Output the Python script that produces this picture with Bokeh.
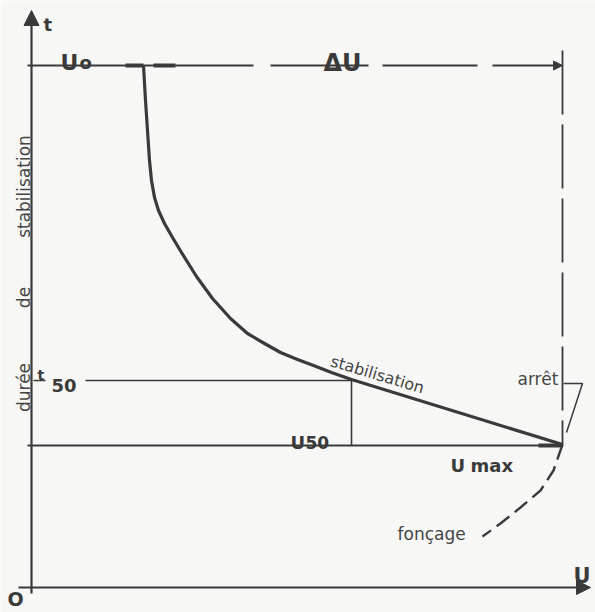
import math
from bokeh.plotting import figure
from bokeh.models import Range1d, Arrow, NormalHead
from bokeh.core.properties import value
from bokeh.embed import file_html
from bokeh.resources import INLINE

# ---- diagram values (u horizontal, t vertical; origin O = (0, 0)) ----
U0, U50, UMAX = 112, 320, 531
T_TOP, T50, T_MAX = 522, 207, 142
U_AXIS_END, T_AXIS_END = 559, 577

# stabilisation curve (t vs u)
curve_u = [112, 114, 116, 118, 120, 123, 127, 133, 141, 150, 165, 181, 199,
           216, 233, 249, 266, 282, 300, 320, 531]
curve_t = [522, 487, 457, 427, 407, 390, 377, 364, 350, 335, 311, 289, 269,
           254, 244, 235, 228, 222, 215, 208, 143]

# foncage (dashed continuation below Umax)
fonc_u = [531, 522, 509, 489, 469, 451]
fonc_t = [143, 117, 97, 80, 64, 51]

# dashes of the Delta-U line at the top
top_dash_start = [-4, 239, 351]
top_dash_end = [222, 337, 446]

# arret leader
arret_u = [532, 551, 535]
arret_t = [204, 204, 155]

LINE = "#3a3a3a"
TXT = "#454545"
BG = "#f7f7f5"

p = figure(width=595, height=612, output_backend="svg", toolbar_location=None,
           x_range=Range1d(-31, 564), y_range=Range1d(-25, 587),
           min_border=0, background_fill_color=BG, border_fill_color=BG)
p.axis.visible = False
p.grid.visible = False
p.outline_line_color = None

# axes with arrows
p.add_layout(Arrow(x_start=0, y_start=-6, x_end=0, y_end=T_AXIS_END,
                   line_color=LINE, line_width=2.2,
                   end=NormalHead(size=15, fill_color=LINE, line_color=LINE)))
p.add_layout(Arrow(x_start=-13, y_start=0, x_end=U_AXIS_END, y_end=0,
                   line_color=LINE, line_width=2.2,
                   end=NormalHead(size=14, fill_color=LINE, line_color=LINE)))

# top Delta-U line
p.segment(x0=top_dash_start, y0=[T_TOP] * 3,
          x1=top_dash_end, y1=[T_TOP] * 3, line_color=LINE, line_width=1.8)
p.add_layout(Arrow(x_start=461, y_start=T_TOP, x_end=UMAX, y_end=T_TOP,
                   line_color=LINE, line_width=1.8,
                   end=NormalHead(size=9, fill_color=LINE, line_color=LINE)))
p.segment(x0=[94, 122], y0=[T_TOP, T_TOP], x1=[U0, 144], y1=[T_TOP, T_TOP],
          line_color=LINE, line_width=4)

# vertical dashed line at Umax
p.line([UMAX, UMAX], [537, T_MAX], line_color=LINE, line_width=1.8,
       line_dash="64 10")

# t50 / U50 construction lines
p.segment(x0=[2, 54], y0=[T50, T50], x1=[14, U50], y1=[T50, T50],
          line_color=LINE, line_width=1.6)
p.line([U50, U50], [T50, T_MAX], line_color=LINE, line_width=1.6)

# Umax horizontal line
p.line([-4, UMAX], [T_MAX, T_MAX], line_color=LINE, line_width=1.8)
p.segment(x0=[507], y0=[T_MAX], x1=[UMAX], y1=[T_MAX], line_color=LINE,
          line_width=4)

# main curve
p.line(curve_u, curve_t, line_color=LINE, line_width=3.2, line_join="round")

# foncage dashed
p.line(fonc_u, fonc_t, line_color=LINE, line_width=2.4, line_dash="16 7")

# arret leader
p.line(arret_u, arret_t, line_color=LINE, line_width=1.5)

BOLD = dict(text_font=value("DejaVu Sans"), text_font_style="bold",
            text_color=LINE, text_baseline="alphabetic", text_align="left")
REG = dict(text_font=value("DejaVu Sans"), text_color=TXT)

def sym(x, y, s, size):
    p.text(x=[x], y=[y], text=[s], text_font_size=f"{size}px", **BOLD)

sym(12, 563, "t", 18)
sym(-24, -11, "O", 19)
sym(542, 12, "U", 21)
sym(29, 525, "U", 22)
sym(48, 525, "o", 18)
sym(292, 525, "ΔU", 24)
sym(6, 213, "t", 14)
sym(20, 202, "50", 18)
sym(259, 145, "U", 18)
sym(274, 145, "50", 17)
sym(419, 122, "U", 18)
sym(439, 122, "max", 18)

p.text(x=[486], y=[209], text=["arrêt"], text_font_size="17px",
       text_baseline="alphabetic", text_align="left", **REG)
p.text(x=[366], y=[54], text=["fonçage"], text_font_size="17px",
       text_baseline="alphabetic", text_align="left", **REG)
p.text(x=[346], y=[213], text=["stabilisation"], text_font_size="16px",
       angle=-0.29, text_baseline="middle", text_align="center", **REG)

p.text(x=[-8, -8, -8], y=[401, 290, 200],
       text=["stabilisation", "de", "durée"], text_font_size="17px",
       angle=math.pi / 2, text_baseline="middle", text_align="center", **REG)

open("out.html", "w").write(file_html(p, INLINE))
